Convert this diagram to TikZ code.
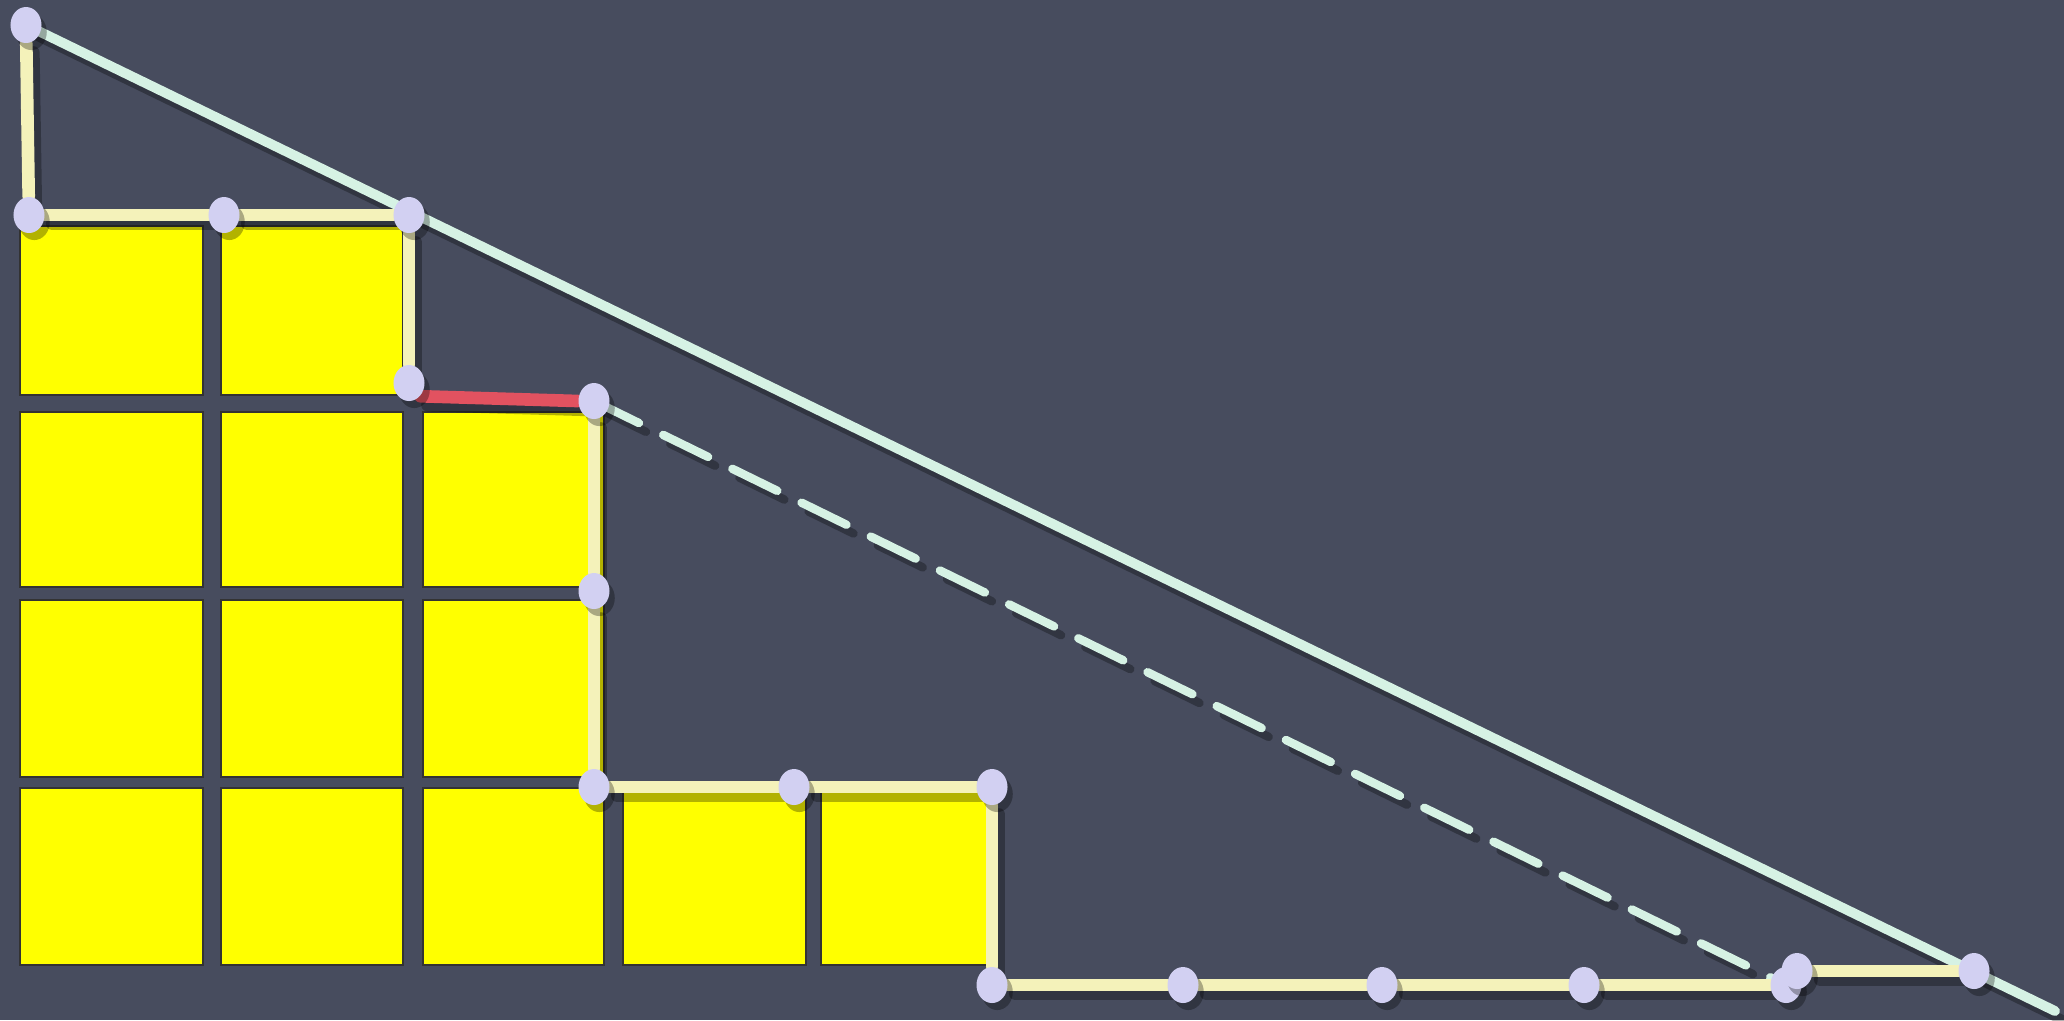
\documentclass[tikz,border=0pt]{standalone}
\usepackage{tikz}
\usetikzlibrary{shapes.geometric}
\pgfdeclarelayer{board}
\pgfdeclarelayer{chalk}
\pgfsetlayers{board,chalk,main}
\definecolor{slate}{RGB}{71,76,94}
\definecolor{tileyellow}{RGB}{255,255,0}
\definecolor{chalkyellow}{RGB}{244,242,186}
\definecolor{chalkmint}{RGB}{214,242,228}
\definecolor{pegcolor}{RGB}{210,208,242}
\definecolor{chalkred}{RGB}{226,82,96}

\tikzset{
  peg/.style={ellipse,fill=pegcolor,minimum width=0.31cm,minimum height=0.36cm,inner sep=0pt,
    preaction={fill=black,opacity=0.3,transform canvas={shift={(1.5pt,-2pt)}}}},
  dropshade/.style={preaction={draw=black,opacity=0.3,line width=#1,line cap=round,
    transform canvas={shift={(2pt,-2.5pt)}}}},
  stick/.style={dropshade=3.6pt,chalkyellow,line width=3.6pt,line cap=round},
  redstick/.style={dropshade=3.6pt,chalkred,line width=3.6pt,line cap=round},
  hyp/.style={dropshade=2.8pt,chalkmint,line width=2.8pt,line cap=round},
  dashhyp/.style={preaction={draw=black,opacity=0.3,line width=2.4pt,line cap=round,
    dash pattern=on 0.5cm off 0.27cm,transform canvas={shift={(2pt,-2.5pt)}}},
    chalkmint,line width=2.4pt,line cap=round,dash pattern=on 0.5cm off 0.27cm},
  tile/.style={fill=tileyellow,draw=black!80,line width=0.6pt}
}

\begin{document}
\begin{tikzpicture}[x=0.01cm,y=-0.01cm]
\begin{pgfonlayer}{board}
\fill[slate] (0,0) rectangle (2064,1020);
% first row
\draw[tile] (20,226) rectangle (203,395);
\draw[tile] (221,226) rectangle (403,395);
% second row
\draw[tile] (20,412) rectangle (203,587);
\draw[tile] (221,412) rectangle (403,587);
\draw[tile] (423,412) rectangle (604,587);
% third row
\draw[tile] (20,600) rectangle (203,777);
\draw[tile] (221,600) rectangle (403,777);
\draw[tile] (423,600) rectangle (604,777);
% fourth row
\draw[tile] (20,788) rectangle (203,965);
\draw[tile] (221,788) rectangle (403,965);
\draw[tile] (423,788) rectangle (604,965);
\draw[tile] (623,788) rectangle (806,965);
\draw[tile] (821,788) rectangle (987,965);
\end{pgfonlayer}

\node[peg] (top) at (26,25) {};
\node[peg] (b1) at (29,215) {};
\node[peg] (b2) at (224,215) {};
\node[peg] (b3) at (409,215) {};
\node[peg] (c) at (409,383) {};
\node[peg] (d) at (594,401) {};
\node[peg] (e) at (594,591) {};
\node[peg] (f1) at (594,787) {};
\node[peg] (f2) at (794,787) {};
\node[peg] (f3) at (992,787) {};
\node[peg] (g1) at (992,985) {};
\node[peg] (g2) at (1183,985) {};
\node[peg] (g3) at (1382,985) {};
\node[peg] (g4) at (1584,985) {};
\node[peg] (g5) at (1786,985) {};
\node[peg] (h1) at (1797,971) {};
\node[peg] (h2) at (1974,971) {};
\coordinate (tip) at (2055,1011);

\begin{pgfonlayer}{chalk}
\draw[hyp] (top.center) -- (tip);
\draw[dashhyp] (d.center) -- (g5.center);
\draw[stick] (top) -- (b1);
\draw[stick] (b1) -- (b2);
\draw[stick] (b2) -- (b3);
\draw[stick] (b3) -- (c);
\draw[redstick] (c.south east) -- (d.west);
\draw[stick] (d) -- (e);
\draw[stick] (e) -- (f1);
\draw[stick] (f1) -- (f2);
\draw[stick] (f2) -- (f3);
\draw[stick] (f3) -- (g1);
\draw[stick] (g1) -- (g2);
\draw[stick] (g2) -- (g3);
\draw[stick] (g3) -- (g4);
\draw[stick] (g4) -- (g5);
\draw[stick] (h1) -- (h2);
\end{pgfonlayer}
\end{tikzpicture}
\end{document}
